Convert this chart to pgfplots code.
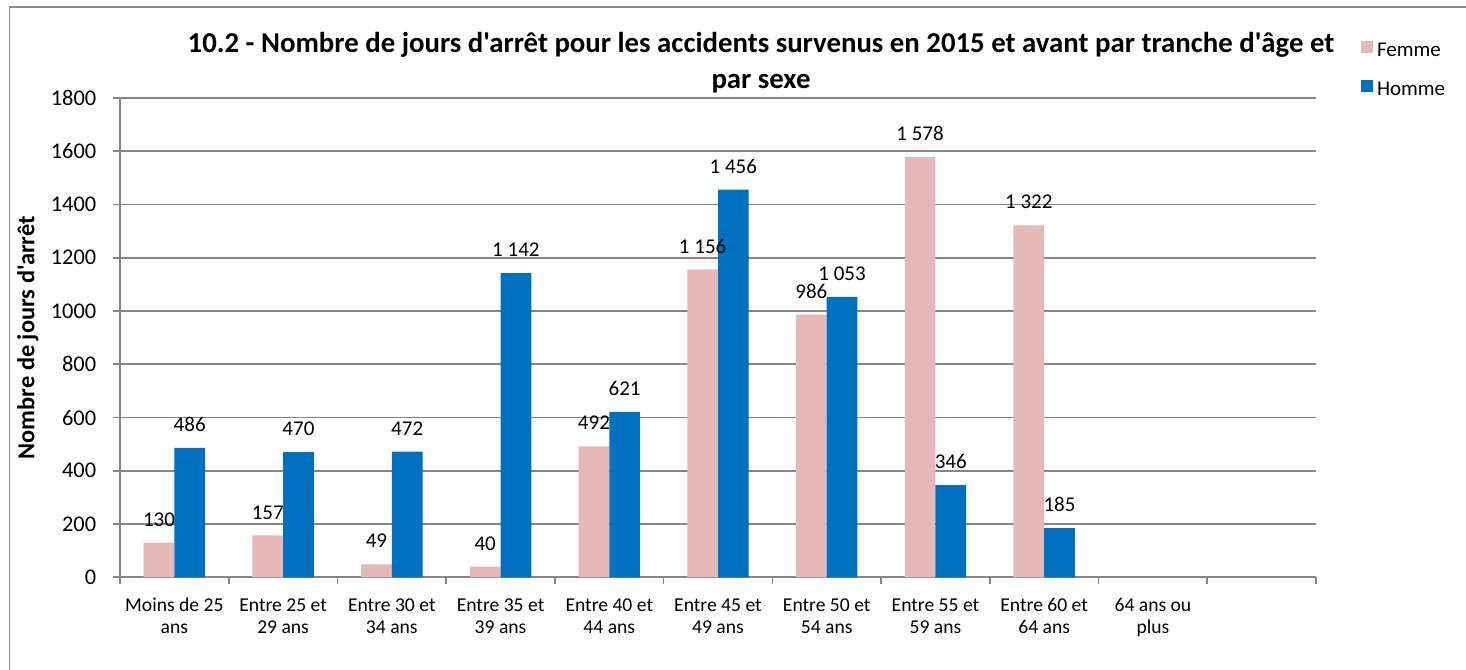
\documentclass[border=0pt]{standalone}
\usepackage{fontspec}
\setmainfont{Carlito}[Ligatures=TeXOff]
\usepackage{pgfplots}
\pgfplotsset{compat=1.18}
\definecolor{femme}{HTML}{E6B9B8}
\definecolor{homme}{HTML}{0070C0}
\definecolor{axgrey}{HTML}{868686}
\definecolor{framegrey}{HTML}{8C8C8C}
\begin{document}
\begin{tikzpicture}
\useasboundingbox (0,0) rectangle (733pt,334.5pt);
\draw[framegrey, line width=0.9pt] (4.75pt,-5pt) -- (4.75pt,330.85pt) -- (740pt,330.85pt);
\node[font=\fontsize{14.4}{17}\selectfont\bfseries, anchor=base, inner sep=0pt] at (380.5pt,308.1pt) {10.2 - Nombre de jours d'arrêt pour les accidents survenus en 2015 et avant par tranche d'âge et};
\node[font=\fontsize{14.4}{17}\selectfont\bfseries, anchor=base, inner sep=0pt] at (380.5pt,290.1pt) {par sexe};
\begin{axis}[
  at={(60pt,45.85pt)}, anchor=south west,
  width=598pt, height=239.65pt, scale only axis,
  ybar, bar width=15.35pt,
  xmin=-0.5, xmax=10.5, ymin=0, ymax=1800,
  ytick={0,200,...,1800},
  xtick={-0.5,0.5,...,10.5}, xticklabels={},
  extra x ticks={0,1,2,3,4,5,6,7,8,9},
  extra x tick labels={{\strut Moins de 25\\ans},{\strut Entre 25 et\\29 ans},{\strut Entre 30 et\\34 ans},{\strut Entre 35 et\\39 ans},{\strut Entre 40 et\\44 ans},{\strut Entre 45 et\\49 ans},{\strut Entre 50 et\\54 ans},{\strut Entre 55 et\\59 ans},{\strut Entre 60 et\\64 ans},{\strut 64 ans ou\\plus}},
  extra x tick style={major tick length=0pt, grid=none},
  axis x line*=bottom, axis y line*=left,
  axis line style={axgrey, line width=0.8pt},
  tick style={axgrey, line width=0.8pt},
  major tick length=3.5pt, tick align=outside,
  ymajorgrids, grid style={axgrey, line width=0.8pt},
  /pgf/number format/1000 sep={},
  /pgf/number format/assume math mode=true,
  yticklabel style={font=\fontsize{11.2}{13}\selectfont, inner sep=0pt, anchor=east, xshift=-8.2pt},
  xticklabel style={font=\fontsize{9.8}{11}\selectfont, align=center, anchor=north, inner sep=0pt, yshift=-9pt},
  ylabel={Nombre de jours d'arrêt},
  ylabel style={font=\fontsize{12.2}{14}\selectfont\bfseries, at={(axis description cs:-0.0715,0.5)}, anchor=base},
  point meta=explicit symbolic,
  nodes near coords,
  every node near coord/.append style={font=\fontsize{10.5}{12}\selectfont, anchor=base, yshift=8.2pt, inner sep=0pt, text=black},
  legend image code/.code={\fill[#1] (0pt,-1pt) rectangle (6pt,5pt); \path (8pt,0pt);},
  legend style={at={(axis description cs:1.03763,1.1193)}, anchor=north west, draw=none, fill=none, inner sep=0pt, outer sep=0pt, row sep=10.7pt, nodes={inner sep=0pt}, font=\fontsize{10.5}{12}\selectfont},
  legend cell align=left,
  clip=false,
]
\addplot[fill=femme, draw=none, bar shift=-7.675pt] coordinates {
  (0,130) [130] (1,157) [157] (2,49) [49] (3,40) [40] (4,492) [492]
  (5,1156) [1 156] (6,986) [986] (7,1578) [1 578] (8,1322) [1 322]
};
\addplot[fill=homme, draw=none, bar shift=7.675pt] coordinates {
  (0,486) [486] (1,470) [470] (2,472) [472] (3,1142) [1 142] (4,621) [621]
  (5,1456) [1 456] (6,1053) [1 053] (7,346) [346] (8,185) [185]
};
\legend{Femme,Homme}
\end{axis}
\end{tikzpicture}
\end{document}
